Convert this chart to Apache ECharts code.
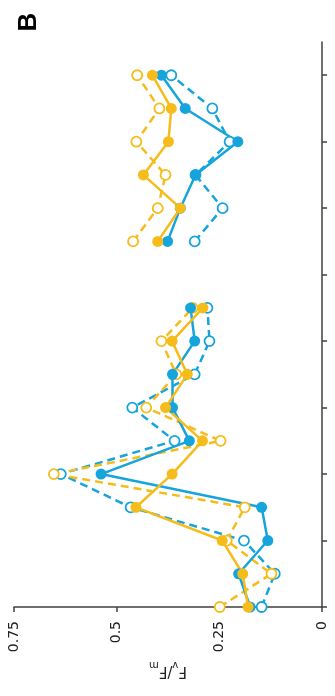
<!DOCTYPE html>
<html><head><meta charset="utf-8">
<script src="https://cdn.jsdelivr.net/npm/echarts@6/dist/echarts.min.js"></script>
<style>html,body{margin:0;padding:0;background:#fff}#c{width:335px;height:696px}</style>
</head><body><div id="c"></div>
<script>
// time points (h), every 0.5
const timePoints = ['0','0.5','1','1.5','2','2.5','3','3.5','4','4.5','5','5.5','6','6.5','7','7.5','8','8.5'];
const blueSolid   = [0.175,0.203,0.132,0.147,0.538,0.323,0.364,0.364,0.310,0.320,null,0.376,0.345,0.308,0.205,0.333,0.391,null];
const blueDashed  = [0.147,0.115,0.190,0.466,0.636,0.359,0.462,0.310,0.274,0.279,null,0.310,0.242,0.308,0.225,0.267,0.367,null];
const yellowSolid = [0.180,0.193,0.243,0.453,0.365,0.291,0.381,0.328,0.365,0.290,null,0.400,0.345,0.435,0.374,0.367,0.413,null];
const yellowDashed= [0.249,0.123,0.232,0.188,0.653,0.247,0.428,0.355,0.391,0.315,null,0.460,0.400,0.381,0.452,0.396,0.450,null];
const valueTicks = [0, 0.25, 0.5, 0.75];
const panelLabel = 'B';

const BLUE = '#16A4DC';
const YELLOW = '#F5BC1B';
const AXIS = '#404040';
const FONT = 'DejaVu Sans';

function mk(name, data, color, dashed) {
  return {
    name, type: 'line', data,
    connectNulls: false,
    symbol: 'circle',
    symbolSize: dashed ? 10 : 11,
    lineStyle: { color, width: 2.5, type: dashed ? [8, 5] : 'solid' },
    itemStyle: dashed ? { color: '#ffffff', borderColor: color, borderWidth: 1.8 } : { color, borderWidth: 0 },
    emphasis: { disabled: true },
    silent: true
  };
}

const chart = echarts.init(document.getElementById('c'));
chart.setOption({
  animation: false,
  backgroundColor: '#ffffff',
  grid: { left: 14, right: 13, top: 42, bottom: 89, containLabel: false, outerBoundsMode: 'none' },
  xAxis: {
    type: 'value', inverse: true, position: 'bottom',
    min: valueTicks[0], max: valueTicks[valueTicks.length - 1], interval: 0.25,
    splitLine: { show: false },
    axisLine: { show: true, lineStyle: { color: AXIS, width: 1.5 } },
    axisTick: { show: true, inside: false, length: 5, lineStyle: { color: AXIS, width: 1.5 } },
    axisLabel: {
      rotate: 90, margin: 14, fontFamily: FONT, fontSize: 14, color: '#222',
      formatter: v => (v === 0 ? '0' : String(+v.toFixed(2)))
    },
    name: '{a|F}{s|v}{a|/F}{s|m}',
    nameLocation: 'middle', nameRotate: 180, nameGap: 52,
    nameTextStyle: {
      rich: {
        a: { fontFamily: FONT, fontSize: 15, lineHeight: 18, color: '#222', verticalAlign: 'top' },
        s: { fontFamily: FONT, fontSize: 10, lineHeight: 8, color: '#222', verticalAlign: 'bottom' }
      }
    }
  },
  yAxis: {
    type: 'category', data: timePoints, boundaryGap: false, position: 'right',
    axisLine: { show: true, onZero: false, lineStyle: { color: AXIS, width: 1.5 } },
    axisTick: { show: true, inside: false, length: 5, interval: 1, lineStyle: { color: AXIS, width: 1.5 } },
    axisLabel: { show: false },
    splitLine: { show: false }
  },
  series: [
    mk('blue dashed', blueDashed, BLUE, true),
    mk('yellow dashed', yellowDashed, YELLOW, true),
    mk('blue solid', blueSolid, BLUE, false),
    mk('yellow solid', yellowSolid, YELLOW, false)
  ]
});

// panel letter, rotated like the rest of the figure
const zr = chart.getZr();
const letter = new echarts.graphic.Text({
  x: 29, y: 22, rotation: Math.PI / 2,
  style: { text: panelLabel, font: 'bold 26px "Liberation Sans"', fill: '#000', align: 'center', verticalAlign: 'middle' },
  silent: true
});
zr.add(letter);
</script>
</body></html>
